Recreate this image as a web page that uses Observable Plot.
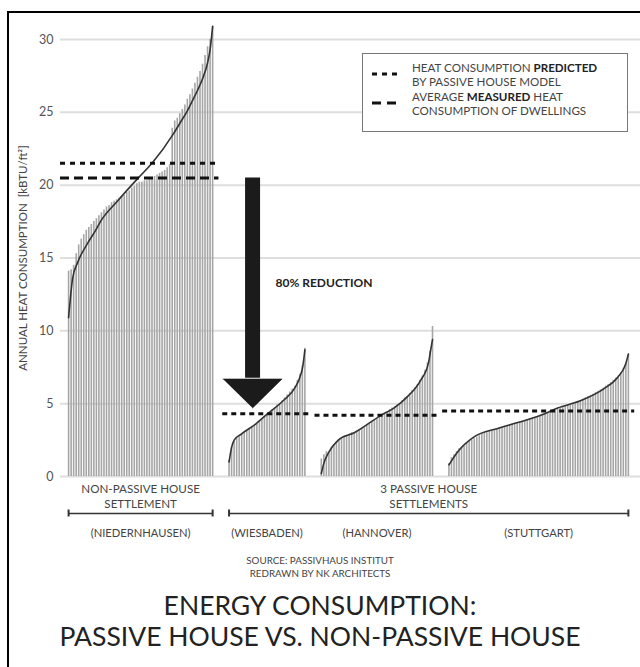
<!DOCTYPE html>
<html>
<head>
<meta charset="utf-8">
<script src="https://cdn.jsdelivr.net/npm/d3@7"></script>
<script src="https://cdn.jsdelivr.net/npm/@observablehq/plot@0.6"></script>
<style>
  body { margin: 0; background: #fff; font-family: Lato, "Open Sans", sans-serif; }
  #page { position: relative; width: 640px; height: 667px; overflow: hidden; background: #fff; }
  #frame { position: absolute; left: 7px; top: 11px; width: 650px; height: 670px; border-left: 2.5px solid #000; border-top: 2.5px solid #000; pointer-events: none; z-index: 5; }
  #chart { position: absolute; left: 0; top: 0; }
  #legend { position: absolute; left: 362px; top: 53px; width: 264px; height: 77px; border: 1.5px solid #777; background: #fff; z-index: 3; }
  #legend svg { position: absolute; left: 0; top: 0; }
  #legend .t { position: absolute; left: 49px; font-size: 11.6px; line-height: 14px; color: #444; white-space: nowrap; }
  #legend b { color: #222; }
  .src { position: absolute; left: 0; width: 640px; text-align: center; font-size: 9.8px; color: #444; }
  .title { position: absolute; left: 0; width: 640px; text-align: center; font-size: 26.5px; color: #222; white-space: nowrap; }
</style>
</head>
<body>
<div id="page">
  <div id="chart"></div>
  <div id="legend">
    <svg width="264" height="77">
      <line x1="9" x2="36" y1="20" y2="20" stroke="#111" stroke-width="3" stroke-dasharray="5,5"></line>
      <line x1="9" x2="36" y1="49" y2="49" stroke="#111" stroke-width="3" stroke-dasharray="9,6"></line>
    </svg>
    <div class="t" style="top:7px">HEAT CONSUMPTION <b>PREDICTED</b><br>BY PASSIVE HOUSE MODEL</div>
    <div class="t" style="top:36px">AVERAGE <b>MEASURED</b> HEAT<br>CONSUMPTION OF DWELLINGS</div>
  </div>
  <div class="src" style="top:554px">SOURCE: PASSIVHAUS INSTITUT</div>
  <div class="src" style="top:567px">REDRAWN BY NK ARCHITECTS</div>
  <div class="title" style="top:589px">ENERGY CONSUMPTION:</div>
  <div class="title" style="top:620px">PASSIVE HOUSE VS. NON-PASSIVE HOUSE</div>
  <div id="frame"></div>
</div>
<script>
// ---------- data ----------
const yTicks = [0, 5, 10, 15, 20, 25, 30];
const yLabel = "ANNUAL HEAT CONSUMPTION  [kBTU/ft²]";
const cityLabels = ["(NIEDERNHAUSEN)", "(WIESBADEN)", "(HANNOVER)", "(STUTTGART)"];
const nonPassiveCaption = "NON-PASSIVE HOUSE\nSETTLEMENT";
const passiveCaption = "3 PASSIVE HOUSE\nSETTLEMENTS";
const reductionLabel = "80% REDUCTION";

// measured heat consumption per dwelling, sorted (kBTU/ft²)
const npValues = [14.1,14.2,14.5,15.3,15.9,16.3,16.6,16.9,17.1,17.3,
  17.5,17.7,17.9,18.1,18.3,18.5,18.6,18.8,18.9,19.0,
  19.1,19.2,19.3,19.5,19.6,19.8,19.9,20.1,20.2,20.2,
  20.3,20.3,20.4,20.5,20.6,20.7,20.8,20.9,21.0,21.2,
  21.4,23.9,24.4,24.6,24.9,25.2,25.5,25.9,26.2,26.6,
  27.0,27.4,27.8,28.3,28.9,29.5,30.0,30.9];
const wiesValues = [1.1,2.0,2.4,2.6,2.8,2.9,3.0,3.1,3.3,3.4,
  3.5,3.6,3.8,3.9,4.1,4.3,4.4,4.6,4.7,4.9,
  5.0,5.2,5.4,5.6,5.8,6.0,6.2,6.6,7.0,7.6,8.8];
const hannValues = [1.2,1.5,1.7,1.6,2.0,2.2,2.4,2.5,2.6,2.7,
  2.8,2.9,3.0,3.0,3.1,3.2,3.3,3.4,3.5,3.6,
  3.8,3.9,4.0,4.1,4.2,4.3,4.4,4.6,4.7,4.8,
  4.9,5.0,5.2,5.4,5.5,5.7,5.9,6.1,6.3,6.6,
  6.9,7.3,7.8,8.6,10.3];
const stuttValues = [0.9,1.3,1.5,1.7,1.9,2.0,2.1,2.3,2.4,2.5,
  2.6,2.7,2.8,2.9,2.95,3.0,3.1,3.15,3.2,3.3,
  3.35,3.4,3.45,3.5,3.55,3.6,3.65,3.7,3.75,3.8,
  3.85,3.9,3.95,4.0,4.05,4.1,4.15,4.2,4.3,4.35,
  4.4,4.45,4.55,4.6,4.7,4.75,4.8,4.9,4.95,5.0,
  5.1,5.15,5.2,5.3,5.4,5.5,5.55,5.65,5.75,5.85,
  5.95,6.05,6.2,6.3,6.45,6.6,6.75,6.9,7.1,7.4,7.8,8.4];

// fitted distribution curves: [dwelling rank, value]
const npCurve = [[0,10.9],[1.6,13.6],[3.6,14.7],[7.5,16.0],[10.7,16.9],[12.6,17.5],[19.3,18.9],[27.6,20.5],[33,21.5],[41.4,23.5],[44.2,24.3],[47,25.1],[49,25.8],[51,26.5],[53,27.3],[55,28.4],[56,29.3],[57,30.9]];
const wiesCurve = [[0,1.0],[1,2.0],[2,2.5],[4.7,2.9],[10.5,3.6],[15.2,4.3],[21.4,5.2],[26.1,6.1],[28,6.8],[29.2,7.6],[30,8.7]];
const hannCurve = [[0,0.2],[1,0.9],[2.75,1.6],[6.7,2.5],[13,3.0],[23.6,4.2],[28.7,4.7],[34.2,5.5],[39.3,6.6],[42.4,7.8],[43.2,8.6],[44,9.4]];
const stuttCurve = [[0,0.8],[3.5,1.7],[9.8,2.7],[19.3,3.3],[27.2,3.7],[36.3,4.2],[43,4.7],[52,5.2],[61.1,6.0],[66.7,6.8],[69.9,7.7],[71,8.4]];

const npPredicted = 21.5;
const npMeasured = 20.5;
const passiveAverages = [4.3, 4.2, 4.5];
const reductionTarget = 4.7;

// ---------- layout helpers ----------
const GAP = 6.5;
const valueSets = [npValues, wiesValues, hannValues, stuttValues];
const curveSets = [npCurve, wiesCurve, hannCurve, stuttCurve];
const starts = [];
let acc = 0;
valueSets.forEach(v => { starts.push(acc); acc += v.length - 1 + GAP; });
const ends = valueSets.map((v, k) => starts[k] + v.length - 1);
const mid = k => (starts[k] + ends[k]) / 2;

const bars = valueSets.flatMap((vals, k) => vals.map((v, j) => ({x: starts[k] + j, v})));
const curves = curveSets.flatMap((pts, k) => pts.map(([j, v]) => ({g: k, x: starts[k] + j, v})));

const PAD = 2.5;
const npLines = [{x1: starts[0] - 3.2, x2: ends[0] + PAD}];
const passiveLines = passiveAverages.map((y, i) => ({y, x1: starts[i + 1] - PAD, x2: ends[i + 1] + PAD}));

const xDomain = [-3.2, ends[3] + 4.8];
const pxPerUnit = (476 - 39) / 30;
const tickHalf = 3.5 / pxPerUnit;

const arrowX = starts[1] + 9.3;
const headBase = reductionTarget + 2.0;
const headHalf = 11.7;
const headPts = [[arrowX - headHalf, headBase], [arrowX + headHalf, headBase], [arrowX, reductionTarget]];

const brackets = [{x1: starts[0], x2: ends[0]}, {x1: starts[1], x2: ends[3]}];
const bracketEnds = [starts[0], ends[0], starts[1], ends[3]];
const captions = [{x: mid(0), t: nonPassiveCaption}, {x: (starts[1] + ends[3]) / 2, t: passiveCaption}];
const cities = cityLabels.map((t, k) => ({x: mid(k), t}));

const chart = Plot.plot({
  width: 640, height: 556,
  marginTop: 39, marginBottom: 80, marginLeft: 60, marginRight: 0,
  x: {domain: xDomain, axis: null},
  y: {domain: [0, 30]},
  style: {fontFamily: "Lato, 'Open Sans', sans-serif", color: "#555", background: "transparent", overflow: "visible"},
  marks: [
    Plot.ruleY(yTicks, {stroke: "#dedede", strokeWidth: 2}),
    Plot.axisY({ticks: yTicks, tickSize: 0, tickPadding: 7, fontSize: 12.5, label: null}),
    Plot.text([yLabel], {frameAnchor: "left", textAnchor: "middle", rotate: -90, dx: -37, fontSize: 11.5, fill: "#444"}),
    Plot.ruleX(bars, {x: "x", y1: 0, y2: "v", stroke: "#a6a6a6", strokeWidth: 1.6}),
    Plot.line(curves, {x: "x", y: "v", z: "g", curve: "monotone-x", stroke: "#333", strokeWidth: 1.6}),
    Plot.ruleY(npLines, {y: npPredicted, x1: "x1", x2: "x2", stroke: "#111", strokeWidth: 3, strokeDasharray: "5,5"}),
    Plot.ruleY(npLines, {y: npMeasured, x1: "x1", x2: "x2", stroke: "#111", strokeWidth: 3, strokeDasharray: "9,5"}),
    Plot.ruleY(passiveLines, {y: "y", x1: "x1", x2: "x2", stroke: "#111", strokeWidth: 3, strokeDasharray: "5,4"}),
    Plot.ruleX([arrowX], {x: d => d, y1: npMeasured, y2: headBase + 0.05, stroke: "#1b1b1b", strokeWidth: 15}),
    Plot.line(headPts, {x: d => d[0], y: d => d[1], fill: "#1b1b1b", stroke: "#1b1b1b", strokeWidth: 0.5}),
    Plot.text([reductionLabel], {x: starts[1] + 18.4, y: 13.25, textAnchor: "start", fontWeight: "bold", fontSize: 12, fill: "#222"}),
    Plot.text(captions, {x: "x", y: 0, text: "t", dy: 19.5, fontSize: 11.6, lineHeight: 1.3, fill: "#444"}),
    Plot.ruleY(brackets, {y: 0, x1: "x1", x2: "x2", dy: 37, stroke: "#333", strokeWidth: 1.5}),
    Plot.ruleX(bracketEnds, {x: d => d, y1: -tickHalf, y2: tickHalf, dy: 37, stroke: "#333", strokeWidth: 2}),
    Plot.text(cities, {x: "x", y: 0, text: "t", dy: 57, fontSize: 11.2, fill: "#444"})
  ]
});
document.getElementById("chart").appendChild(chart);
</script>
</body>
</html>
